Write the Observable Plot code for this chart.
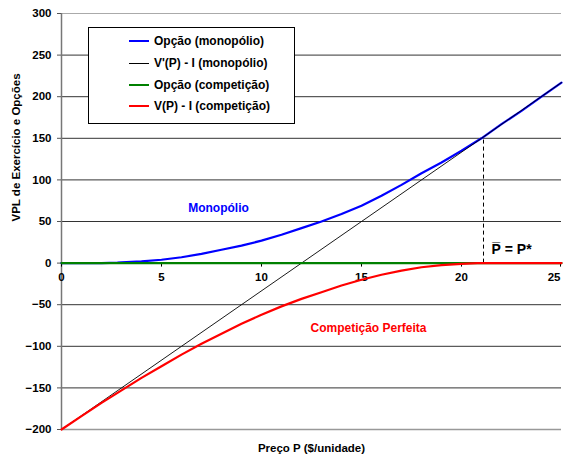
<!DOCTYPE html>
<html>
<head>
<meta charset="utf-8">
<script src="https://cdn.jsdelivr.net/npm/d3@7"></script>
<script src="https://cdn.jsdelivr.net/npm/@observablehq/plot@0.6"></script>
<style>
  body { margin: 0; background: #fff; font-family: "Liberation Sans", Arial, sans-serif; }
  #wrap { position: relative; width: 564px; height: 457px; overflow: hidden; }
  #legend { position: absolute; left: 88px; top: 27px; width: 207px; height: 97px; border: 1px solid #000; background: #fff; box-sizing: border-box; }
  .row { position: absolute; left: 0; height: 14px; font-size: 12px; font-weight: bold; color: #000; white-space: nowrap; }
  .sw { position: absolute; left: 40px; top: 6px; width: 20px; height: 2px; }
  .lbl { position: absolute; left: 65px; top: 0; line-height: 14px; }
</style>
</head>
<body>
<div id="wrap"><div id="legend"></div></div>
<script>
// ---- data ----
const priceBlue = [0, 1, 2, 2.8, 3, 4, 5, 6, 7, 8, 9, 10, 11, 12, 13, 14, 15, 16, 17, 18, 19, 20, 21, 22, 23, 24, 25];
const opcaoMonopolio = [0, 0, 0, 0.5, 1, 2, 4, 7, 11, 16, 21, 27, 34, 42, 50, 59, 69, 81, 94, 108, 121, 135, 150, 167, 183, 200, 217];

const priceBlack = [0, 3, 6, 9, 12, 15, 18, 21, 25];
const vLinhaMonopolio = [-200, -150, -100, -50, 0, 50, 100, 150, 217];

const priceGreen = [0, 25];
const opcaoCompeticao = [0, 0];

const priceRed = [0, 1, 2, 3, 4, 5, 6, 7, 8, 9, 10, 11, 12, 13, 14, 15, 16, 17, 18, 19, 20, 20.8, 25];
const vCompeticao = [-200, -184, -168, -153, -138, -124, -110, -97, -85, -73, -62, -52, -43, -35, -27, -20, -14, -9, -5, -2.5, -1, 0, 0];

const pStar = [21.1];
const pStarValue = [150];

const seriesNames = ["Opção (monopólio)", "V'(P) - I (monopólio)", "Opção (competição)", "V(P) - I (competição)"];
const seriesColors = ["#0000ff", "#000000", "#008000", "#ff0000"];

const xTicks = [0, 5, 10, 15, 20];
const xTicksLast = [25];
const yTicks = [-200, -150, -100, -50, 0, 50, 100, 150, 200, 250, 300];

const annotations = [
  {x: 7.85, y: 66, text: "Monopólio", color: "#0000ff"},
  {x: 15.35, y: -78, text: "Competição Perfeita", color: "#ff0000"}
];
const pStarLabel = [{x: 21.5, y: 16, text: "P\u0305 = P*"}];

const xLabel = "Preço P ($/unidade)";
const yLabel = "VPL de Exercício e Opções";

// ---- build ----
const W = 564, H = 457, mT = 13, mB = 28, mL = 61, mR = 3;
const yDomain = [-200, 300];
const axisShift = -((0 - yDomain[0]) / (yDomain[1] - yDomain[0])) * (H - mT - mB);

const zip = (xs, ys) => xs.map((x, i) => ({x, y: ys[i]}));
const blue = zip(priceBlue, opcaoMonopolio);
const black = zip(priceBlack, vLinhaMonopolio);
const green = zip(priceGreen, opcaoCompeticao);
const red = zip(priceRed, vCompeticao);

const chart = Plot.plot({
  width: W, height: H,
  marginTop: mT, marginBottom: mB, marginLeft: mL, marginRight: mR,
  style: {fontFamily: "'Liberation Sans', Arial, sans-serif", fontWeight: "bold", fontSize: "11px", background: "#fff", overflow: "visible"},
  x: {domain: [0, 25]},
  y: {domain: yDomain},
  marks: [
    Plot.ruleY(yTicks.filter(v => v > -200 && v < 300), {stroke: "#333", strokeWidth: 1, strokeOpacity: 1}),
    Plot.ruleY([300], {stroke: "#aaa", strokeWidth: 1}),
    Plot.ruleY([-200], {stroke: "#999", strokeWidth: 1.5}),
    Plot.ruleX([0], {stroke: "#777", strokeWidth: 1.5}),
    Plot.axisY({ticks: yTicks, tickSize: 4, tickPadding: 6, label: null, fontSize: 11.5, fontWeight: "bold", stroke: "#555"}),
    Plot.axisX({anchor: "bottom", ticks: xTicks, tickSize: 4, tickPadding: 6, label: null, dy: axisShift, fontSize: 11.5, fontWeight: "bold"}),
    Plot.axisX({anchor: "bottom", ticks: xTicksLast, tickSize: 4, tickPadding: 6, label: null, dy: axisShift, dx: -1, textAnchor: "end", fontSize: 11.5, fontWeight: "bold"}),
    Plot.ruleX(pStar, {y1: 0, y2: pStarValue[0], stroke: "#000", strokeWidth: 1, strokeDasharray: "4,3"}),
    Plot.line(blue, {x: "x", y: "y", stroke: seriesColors[0], strokeWidth: 2.2}),
    Plot.line(black, {x: "x", y: "y", stroke: seriesColors[1], strokeWidth: 0.9}),
    Plot.line(green, {x: "x", y: "y", stroke: seriesColors[2], strokeWidth: 2.2}),
    Plot.line(red, {x: "x", y: "y", stroke: seriesColors[3], strokeWidth: 2.2}),
    Plot.text(annotations, {x: "x", y: "y", text: "text", fill: "color", fontSize: 12, fontWeight: "bold"}),
    Plot.text(pStarLabel, {x: "x", y: "y", text: "text", fill: "#000", fontSize: 14, fontWeight: "bold", textAnchor: "start"}),
    Plot.text([xLabel], {frameAnchor: "bottom", dy: 22, fontSize: 11.5, fontWeight: "bold"}),
    Plot.text([yLabel], {frameAnchor: "left", dx: -45, rotate: -90, fontSize: 11.5, fontWeight: "bold"})
  ]
});
const wrap = document.getElementById("wrap");
wrap.insertBefore(chart, wrap.firstChild);

const legend = document.getElementById("legend");
const rowTops = [6, 28, 50, 71];
seriesNames.forEach((name, i) => {
  const row = document.createElement("div");
  row.className = "row";
  row.style.top = rowTops[i] + "px";
  const sw = document.createElement("div");
  sw.className = "sw";
  sw.style.background = seriesColors[i];
  if (i === 1) { sw.style.height = "1px"; sw.style.top = "7px"; }
  const lbl = document.createElement("div");
  lbl.className = "lbl";
  lbl.textContent = name;
  row.appendChild(sw); row.appendChild(lbl);
  legend.appendChild(row);
});
</script>
</body>
</html>
